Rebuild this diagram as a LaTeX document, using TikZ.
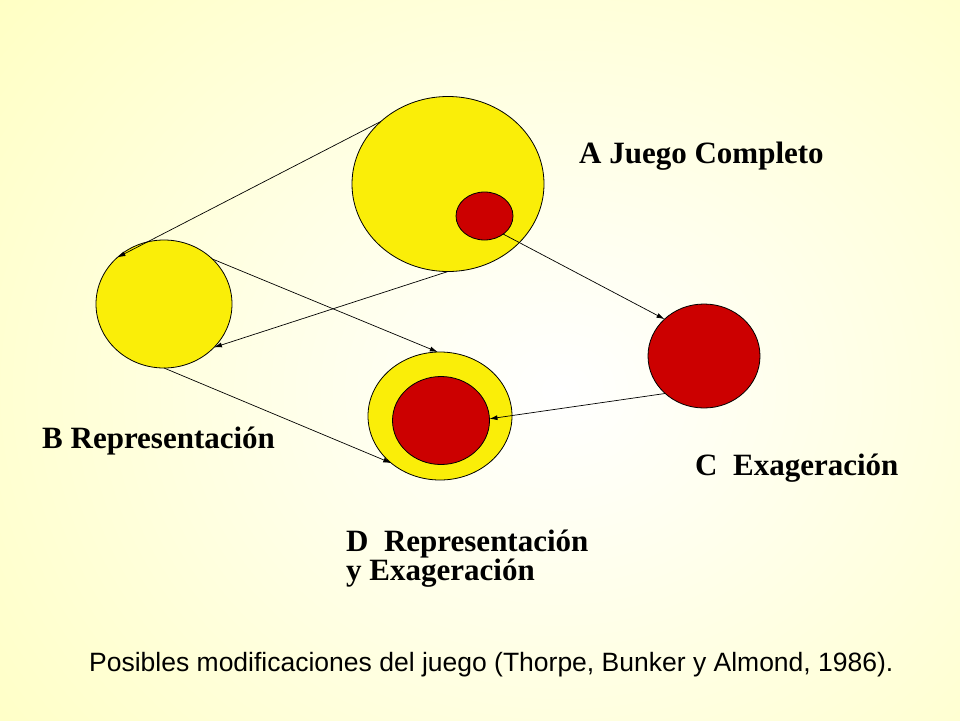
\documentclass[tikz,border=0pt]{standalone}
\usepackage{fontspec}
\setmainfont{Liberation Serif}
\newfontfamily\capfont{Liberation Sans}
\usetikzlibrary{shapes.geometric,arrows.meta}
\definecolor{bgyellow}{RGB}{255,255,190}
\definecolor{gameyellow}{RGB}{250,238,8}
\definecolor{gamered}{RGB}{204,0,0}
\tikzset{
  circ/.style={ellipse, draw=black, line width=0.8pt, inner sep=0pt, outer sep=0pt},
  yel/.style={circ, fill=gameyellow},
  rd/.style={circ, fill=gamered},
  link/.style={line width=0.7pt, -{Latex[length=8pt,width=5pt]}},
  lbl/.style={anchor=base west, inner sep=0pt, font=\bfseries\fontsize{31}{29}\selectfont}
}

\begin{document}
\begin{tikzpicture}[x=1pt,y=-1pt]
                \useasboundingbox (0,0) rectangle (960,720);
                \fill[bgyellow] (0,0) rectangle (960,720);
                \begin{scope}
                  \clip (0,0) rectangle (960,720);
                  \shade[inner color=white, outer color=bgyellow] (560,390) ellipse (800 and 680);
                \end{scope}
                % circles
                \node[yel, minimum width=192pt, minimum height=175pt] (A) at (448,184) {};
                \node[rd, minimum width=57pt, minimum height=48pt] (Ar) at (484.5,216) {};
                \node[yel, minimum width=136pt, minimum height=128pt] (B) at (164,304) {};
                \node[rd, minimum width=112pt, minimum height=104pt] (C) at (704,356) {};
                \node[yel, minimum width=144pt, minimum height=128pt] (D) at (440,416) {};
                \node[rd, minimum width=97pt, minimum height=88pt] (Dr) at (441,420.5) {};
                % arrows
                \draw[link] (A.137) -- (B.135);
                \draw[link] (A.270) -- (B.319);
                \draw[link] (B.43) -- (D.92);
                \draw[link] (B.270) -- (D.224);
                \draw[link] (Ar.316) -- (C.137);
                \draw[link] (C.224) -- (Dr.2);
                % labels
                \node[lbl] (la) at (579,163) {A Juego Completo};
                \node[lbl] (lb) at (42,448) {B Representación};
                \node[lbl] (lc) at (695,475) {C\ \ Exageración};
                \node[lbl, align=left, anchor=north west] (ld) at (346,530) {D\ \ Representación\\y Exageración};
                \node[anchor=base west, inner sep=0pt, font=\capfont\fontsize{26.5}{30}\selectfont] (cap) at (89,671)
                  {Posibles modificaciones del juego (Thorpe, Bunker y Almond, 1986).};
            \end{tikzpicture}
\end{document}
